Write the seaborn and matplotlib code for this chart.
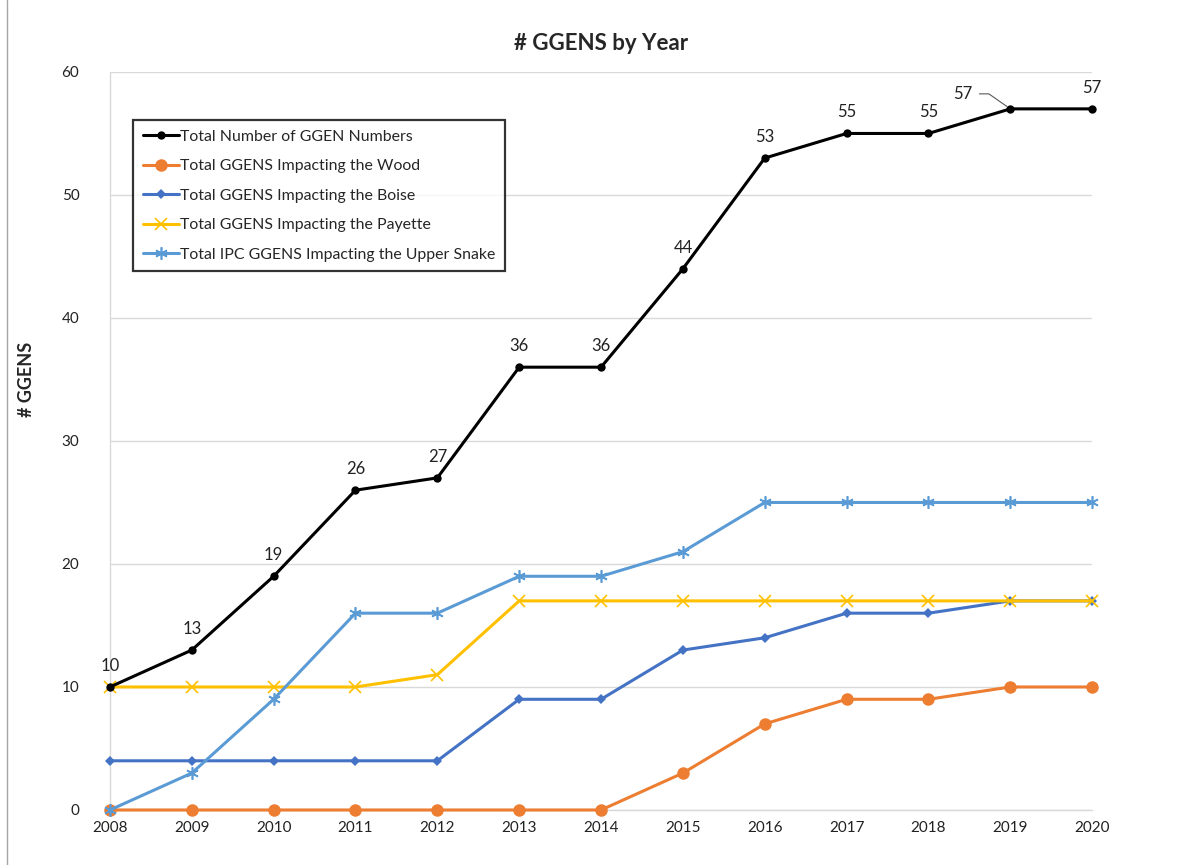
import pandas as pd
import numpy as np
import matplotlib.pyplot as plt
import seaborn as sns

# chart values
years = list(range(2008, 2021))
total = [10, 13, 19, 26, 27, 36, 36, 44, 53, 55, 55, 57, 57]
wood = [0, 0, 0, 0, 0, 0, 0, 3, 7, 9, 9, 10, 10]
boise = [4, 4, 4, 4, 4, 9, 9, 13, 14, 16, 16, 17, 17]
payette = [10, 10, 10, 10, 11, 17, 17, 17, 17, 17, 17, 17, 17]
upper_snake = [0, 3, 9, 16, 16, 19, 19, 21, 25, 25, 25, 25, 25]

series_names = [
    "Total Number of GGEN Numbers",
    "Total GGENS Impacting the Wood",
    "Total GGENS Impacting the Boise",
    "Total GGENS Impacting the Payette",
    "Total IPC GGENS Impacting the Upper Snake",
]
series_values = [total, wood, boise, payette, upper_snake]

colors = ["#000000", "#ED7D31", "#4472C4", "#FFC000", "#5B9BD5"]
markers = ["o", "o", "D", "x", (6, 2, 0)]
msizes = [6, 9, 5.5, 8, 9]
zorders = [10, 5, 6, 7, 8]

df = pd.DataFrame({
    "year": years * len(series_names),
    "value": sum(series_values, []),
    "series": np.repeat(series_names, len(years)),
})

sns.set_style("white")
plt.rcParams["font.family"] = ["Lato", "DejaVu Sans"]

fig = plt.figure(figsize=(11.82, 8.65), dpi=100)
ax = fig.add_axes([0.093, 0.0636, 0.831, 0.8532])

for name, c, m, ms, z in zip(series_names, colors, markers, msizes, zorders):
    sub = df[df["series"] == name]
    sns.lineplot(data=sub, x="year", y="value", ax=ax, color=c, marker=m,
                 markersize=ms, markeredgecolor=c,
                 markeredgewidth=1.2 if m in ("x", (6, 2, 0)) else 0,
                 linewidth=2.2, label=name, zorder=z, clip_on=False)

# data labels on the total line
for yr, v in zip(years, total):
    if yr == 2019:
        ax.annotate(str(v), xy=(yr, v), xytext=(-48, 15), textcoords="offset pixels",
                    ha="center", va="center", fontsize=12, color="#222222",
                    arrowprops=dict(arrowstyle="-", color="#595959", lw=0.8,
                                    connectionstyle="angle,angleA=0,angleB=145,rad=0",
                                    shrinkA=3, shrinkB=3))
    else:
        ax.annotate(str(v), xy=(yr, v), xytext=(0, 13), textcoords="offset pixels",
                    ha="center", va="bottom", fontsize=12, color="#222222")

ax.set_xlim(2008, 2020)
ax.set_ylim(0, 60)
ax.set_xticks(years)
ax.set_yticks(range(0, 61, 10))
ax.tick_params(axis="both", length=0, labelsize=11, colors="#222222")
ax.tick_params(axis="x", pad=8)
ax.tick_params(axis="y", pad=22)
ax.grid(axis="y", color="#D9D9D9", linewidth=1)
for s in ["top", "right"]:
    ax.spines[s].set_visible(False)
for s in ["left", "bottom"]:
    ax.spines[s].set_color("#D9D9D9")
    ax.spines[s].set_linewidth(1)
ax.set_xlabel("")
ax.set_ylabel("# GGENS", fontsize=13, fontweight="bold")
ax.yaxis.set_label_coords(-0.076, 0.583)
ax.set_title("# GGENS by Year", fontsize=16, fontweight="bold", pad=16)

leg = ax.legend(loc="upper left", bbox_to_anchor=(133 / 1182, 1 - 120 / 865),
                bbox_transform=fig.transFigure, fontsize=11.4, frameon=True,
                fancybox=False, borderpad=0.6, labelspacing=0.98, handlelength=2.3,
                handletextpad=0.1, borderaxespad=0)
leg.get_frame().set_edgecolor("black")
leg.get_frame().set_linewidth(1.6)

fig.add_artist(plt.Line2D([7 / 1182, 7 / 1182], [0, 1], color="#A6A6A6", linewidth=1))

fig.savefig("out.png", dpi=100)
